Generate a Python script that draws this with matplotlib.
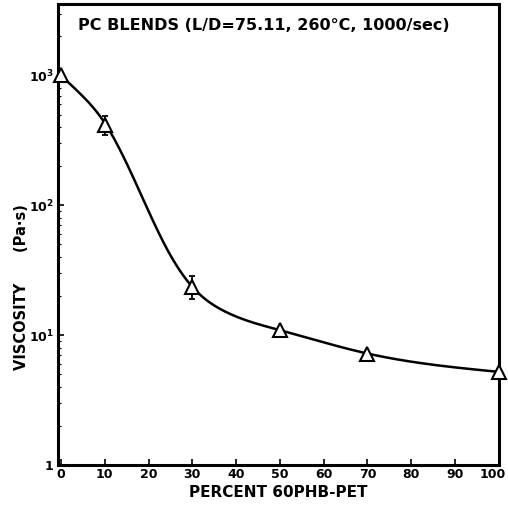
import numpy as np
import matplotlib
matplotlib.use("Agg")
import matplotlib.pyplot as plt
from matplotlib.transforms import ScaledTranslation

# Measured blend viscosities
pct = [0, 10, 30, 50, 70, 100]
visc = [1000, 415, 23.5, 10.9, 7.2, 5.2]
err_lo = [1000, 350, 19.0, 10.9, 7.2, 5.2]
err_hi = [1000, 485, 28.5, 10.9, 7.2, 5.2]

# Hand-drawn trend curve through the data
curve_x = [0, 4, 10, 17.3, 24.1, 30, 37.1, 50, 70, 100]
curve_y = [1000, 745, 430, 143, 46.7, 23.5, 15.4, 10.9, 7.2, 5.2]

xticks = [0, 10, 20, 30, 40, 50, 60, 70, 80, 90, 100]
xticklabels = ["0", "10", "20", "30", "40", "50", "60", "70", "80", "90", "100"]
yticks = [1, 10, 100, 1000]
yticklabels = ["1", r"10$^1$", r"10$^2$", r"10$^3$"]


def natural_spline(x, y, xs):
    """Natural cubic spline through (x, y), evaluated at xs."""
    x = np.asarray(x, float)
    y = np.asarray(y, float)
    n = len(x)
    h = np.diff(x)
    A = np.zeros((n, n))
    r = np.zeros(n)
    A[0, 0] = A[-1, -1] = 1.0
    for i in range(1, n - 1):
        A[i, i - 1] = h[i - 1]
        A[i, i] = 2 * (h[i - 1] + h[i])
        A[i, i + 1] = h[i]
        r[i] = 6 * ((y[i + 1] - y[i]) / h[i] - (y[i] - y[i - 1]) / h[i - 1])
    M = np.linalg.solve(A, r)
    idx = np.clip(np.searchsorted(x, xs) - 1, 0, n - 2)
    a = x[idx + 1] - xs
    b = xs - x[idx]
    hi = h[idx]
    return (M[idx] * a**3 / (6 * hi) + M[idx + 1] * b**3 / (6 * hi)
            + (y[idx] / hi - M[idx] * hi / 6) * a
            + (y[idx + 1] / hi - M[idx + 1] * hi / 6) * b)


plt.rcParams["font.family"] = ["DejaVu Sans"]
plt.rcParams["font.weight"] = "bold"
plt.rcParams["mathtext.default"] = "bf"

fig = plt.figure(figsize=(5.08, 5.08), dpi=100)
ax = fig.add_axes([0.114, 0.085, 0.868, 0.907])

xs = np.linspace(curve_x[0], curve_x[-1], 500)
ys = 10 ** natural_spline(curve_x, np.log10(curve_y), xs)
ax.plot(xs, ys, color="black", lw=1.8, zorder=2)

yerr = [np.array(visc) - np.array(err_lo), np.array(err_hi) - np.array(visc)]
ax.errorbar(pct, visc, yerr=yerr, fmt="none", ecolor="black", elinewidth=1.3,
            capsize=2.5, capthick=1.3, zorder=3, clip_on=False)
ax.plot(pct, visc, linestyle="none", marker="^", ms=10, mfc="white",
        mec="black", mew=1.5, zorder=4, clip_on=False)

ax.set_yscale("log")
ax.set_xlim(-0.7, 100)
ax.set_ylim(1, 10 ** 3.55)
ax.set_xticks(xticks)
ax.set_xticklabels(xticklabels)
ax.set_yticks(yticks)
ax.set_yticklabels(yticklabels)
ax.tick_params(axis="both", which="major", direction="in", length=4, width=1.2,
               labelsize=9)
ax.tick_params(axis="x", which="major", pad=2)
ax.tick_params(axis="y", which="major", pad=3)
ax.tick_params(axis="y", which="minor", direction="in", length=2, width=0.8)
ax.tick_params(axis="y", which="minor", labelleft=False)
for s in ax.spines.values():
    s.set_linewidth(2.2)

# nudge the last x tick label so it stays inside the figure
last = ax.get_xticklabels()[-1]
last.set_transform(last.get_transform() + ScaledTranslation(-6 / 100, 0, fig.dpi_scale_trans))

ax.text(0.466, 0.954, "PC BLENDS (L/D=75.11, 260°C, 1000/sec)", transform=ax.transAxes,
        ha="center", va="center", fontsize=11.5, fontweight="bold")
ax.set_xlabel("PERCENT 60PHB-PET", fontsize=11, fontweight="bold", labelpad=3)
fig.text(0.043, 0.435, "VISCOSITY      (Pa·s)", rotation=90, ha="center", va="center",
         fontsize=10.5, fontweight="bold")

fig.savefig("out.png", dpi=100)
